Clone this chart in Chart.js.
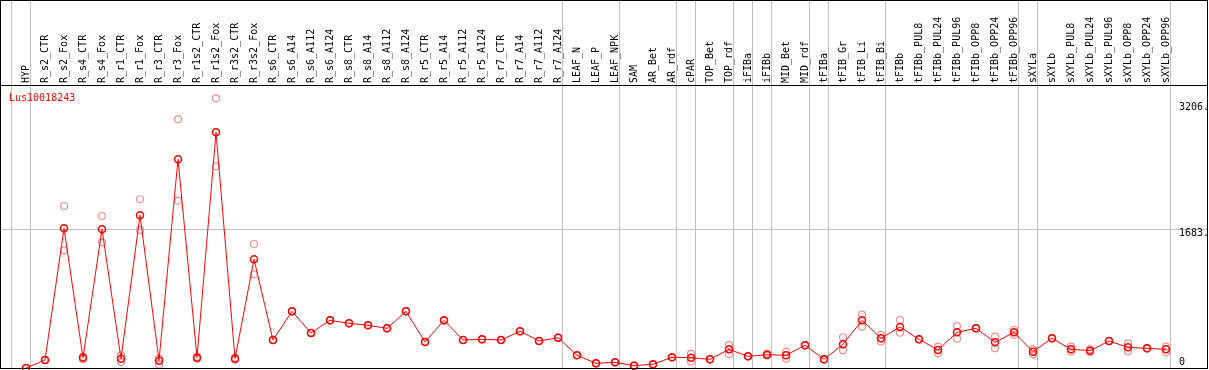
<!DOCTYPE html>
<html>
<head>
<meta charset="utf-8">
<script src="https://cdn.jsdelivr.net/npm/chart.js@4"></script>
<style>
  html, body { margin: 0; padding: 0; background: #fff; }
  canvas { display: block; }
</style>
</head>
<body>
<canvas id="expr" width="1209" height="370"></canvas>
<script>
const geneName = "Lus10018243";

const categories = [
  "HYP", "R_s2_CTR", "R_s2_Fox", "R_s4_CTR", "R_s4_Fox", "R_r1_CTR", "R_r1_Fox",
  "R_r3_CTR", "R_r3_Fox", "R_r1s2_CTR", "R_r1s2_Fox", "R_r3s2_CTR", "R_r3s2_Fox",
  "R_s6_CTR", "R_s6_A14", "R_s6_A112", "R_s6_A124", "R_s8_CTR", "R_s8_A14",
  "R_s8_A112", "R_s8_A124", "R_r5_CTR", "R_r5_A14", "R_r5_A112", "R_r5_A124",
  "R_r7_CTR", "R_r7_A14", "R_r7_A112", "R_r7_A124", "LEAF_N", "LEAF_P", "LEAF_NPK",
  "SAM", "AR_Bet", "AR_rdf", "cPAR", "TOP_Bet", "TOP_rdf", "iFIBa", "iFIBb",
  "MID_Bet", "MID_rdf", "tFIBa", "tFIB_Gr", "tFIB_Li", "tFIB_Bi", "tFIBb",
  "tFIBb_PUL8", "tFIBb_PUL24", "tFIBb_PUL96", "tFIBb_OPP8", "tFIBb_OPP24",
  "tFIBb_OPP96", "sXYLa", "sXYLb", "sXYLb_PUL8", "sXYLb_PUL24", "sXYLb_PUL96",
  "sXYLb_OPP8", "sXYLb_OPP24", "sXYLb_OPP96"
];

// mean expression
const meanValues = [
  0, 97, 1691, 125, 1679, 113, 1849, 89, 2527, 125, 2854, 113, 1316,
  339, 686, 424, 577, 541, 517, 480, 686, 315, 577, 339, 347,
  339, 444, 327, 367, 154, 57, 69, 28, 45, 130, 125, 105, 226, 141, 161,
  154, 275, 105, 287, 577, 360, 497, 347, 218, 432, 480, 311,
  432, 198, 360, 226, 210, 327, 250, 238, 226
];

// replicates
const rep1 = [
  0, 97, 1961, 137, 1840, 154, 2043, 117, 3011, 137, 3265, 125, 1501,
  339, 686, 424, 577, 541, 517, 480, 686, 315, 577, 339, 347,
  339, 444, 327, 367, 154, 57, 69, 28, 45, 130, 170, 105, 278, 141, 175,
  194, 275, 105, 372, 645, 400, 581, 347, 258, 508, 480, 379,
  460, 226, 360, 258, 225, 327, 299, 238, 258
];
const rep2 = [
  0, 97, 1425, 105, 1522, 72, 1671, 40, 2026, 113, 2442, 101, 1134,
  339, 686, 424, 577, 541, 517, 480, 686, 315, 577, 339, 347,
  339, 444, 327, 367, 154, 57, 69, 28, 45, 130, 80, 105, 170, 141, 150,
  114, 275, 105, 214, 500, 320, 427, 347, 178, 355, 480, 238,
  400, 165, 360, 198, 195, 327, 200, 238, 190
];

// last index of each sample group (separator drawn after it)
const groupEnds = [-1, 0, 28, 31, 34, 35, 37, 38, 39, 41, 42, 45, 52, 53, 60];
const yTicks = [3206, 1683, 0];
const yGrid = [1683];

const toPts = arr => arr.map((v, i) => ({ x: i, y: v }));

const frame = {
  id: "frame",
  beforeDatasetsDraw(chart) {
    const c = chart.ctx, xs = chart.scales.x, ys = chart.scales.y;
    c.save();
    c.strokeStyle = "#c0c0c0";
    c.lineWidth = 1;
    groupEnds.forEach(g => {
      const x = Math.round(xs.getPixelForValue(g) + 4) + 0.5;
      c.beginPath(); c.moveTo(x, 1); c.lineTo(x, 368); c.stroke();
    });
    yGrid.forEach(v => {
      const y = Math.round(ys.getPixelForValue(v)) + 0.5;
      c.beginPath(); c.moveTo(1, y); c.lineTo(1207, y); c.stroke();
    });
    c.restore();
  },
  afterDraw(chart) {
    const c = chart.ctx, xs = chart.scales.x, ys = chart.scales.y;
    c.save();
    c.font = "10px 'DejaVu Sans Mono'";
    c.fillStyle = "#000";
    // rotated sample names
    categories.forEach((name, i) => {
      c.save();
      c.translate(xs.getPixelForValue(i), 83);
      c.rotate(-Math.PI / 2);
      c.textAlign = "left";
      c.textBaseline = "middle";
      c.fillText(name, 0, 0);
      c.restore();
    });
    // value labels on the right
    c.textAlign = "left";
    c.textBaseline = "middle";
    yTicks.forEach(v => {
      let y = ys.getPixelForValue(v) + 4.5;
      if (y > 362) y = 362;
      c.fillText(v === 0 ? "0" : v + ".", 1179, y);
    });
    // gene name
    c.fillStyle = "#ff0000";
    c.fillText(geneName, 9, 98);
    // borders
    c.strokeStyle = "#000";
    c.lineWidth = 1;
    c.strokeRect(0.5, 0.5, 1207, 368);
    c.beginPath(); c.moveTo(0, 85.5); c.lineTo(1208, 85.5); c.stroke();
    c.restore();
  }
};

new Chart(document.getElementById("expr"), {
  type: "line",
  data: {
    datasets: [
      {
        data: toPts(meanValues),
        borderColor: "#ff0000",
        backgroundColor: "rgba(0,0,0,0)",
        borderWidth: 1,
        pointRadius: 3.5,
        pointBorderWidth: 1.5,
        pointBorderColor: "#ff0000",
        tension: 0,
        clip: false,
        order: 0
      },
      {
        data: toPts(rep1),
        showLine: false,
        backgroundColor: "rgba(0,0,0,0)",
        pointRadius: 3.5,
        pointBorderWidth: 1.2,
        pointBorderColor: "#ef9090",
        clip: false,
        order: 1
      },
      {
        data: toPts(rep2),
        showLine: false,
        backgroundColor: "rgba(0,0,0,0)",
        pointRadius: 3.5,
        pointBorderWidth: 1.2,
        pointBorderColor: "#ef9090",
        clip: false,
        order: 1
      }
    ]
  },
  options: {
    responsive: false,
    animation: false,
    events: [],
    layout: { autoPadding: false, padding: { top: 85, left: 1, right: 2, bottom: 2 } },
    scales: {
      x: { type: "linear", display: false, bounds: "data", min: -25 / 19, max: -25 / 19 + 1206 / 19 },
      y: { type: "linear", display: false, bounds: "data", min: 0, max: 3426 }
    },
    plugins: {
      legend: { display: false },
      tooltip: { enabled: false }
    }
  },
  plugins: [frame]
});
</script>
</body>
</html>
